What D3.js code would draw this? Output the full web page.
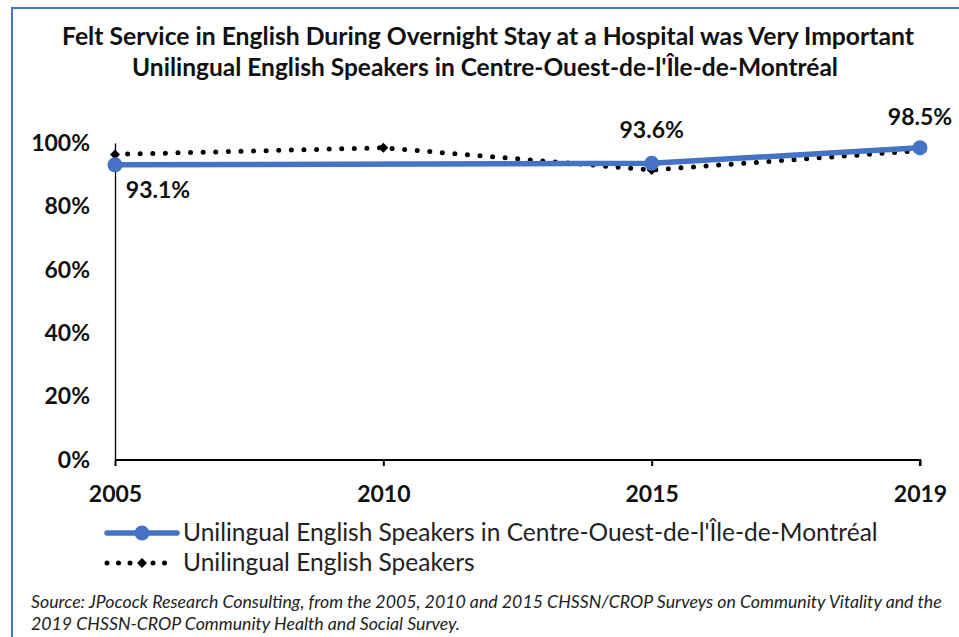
<!DOCTYPE html>
<html>
<head>
<meta charset="utf-8">
<script src="https://cdn.jsdelivr.net/npm/d3@7"></script>
<style>
  html, body { margin: 0; padding: 0; background: #fff; }
  svg { display: block; font-family: Lato, "Open Sans", sans-serif; }
</style>
</head>
<body>
<svg id="chart" width="959" height="637"></svg>
<script>
// Survey years (categories) and the two series, in percent
const years = ["2005", "2010", "2015", "2019"];
const centreOuest = [93.1, null, 93.6, 98.5];
const allUnilingual = [96.4, 98.5, 91.5, 97.6];
const yTicks = [0, 20, 40, 60, 80, 100];

const titleLines = [
  "Felt Service in English During Overnight Stay at a Hospital was Very Important",
  "Unilingual English Speakers in Centre-Ouest-de-l'Île-de-Montréal"
];
const seriesNames = [
  "Unilingual English Speakers in Centre-Ouest-de-l'Île-de-Montréal",
  "Unilingual English Speakers"
];
const sourceLines = [
  "Source: JPocock Research Consulting, from the 2005, 2010  and 2015  CHSSN/CROP Surveys on Community Vitality and the",
  "2019  CHSSN-CROP Community Health and Social Survey."
];

const blue = "#4472C4";
const svg = d3.select("#chart");

// Fit a text element to a given width by adjusting its font size
function fitWidth(sel, width) {
  const node = sel.node();
  const fs = parseFloat(sel.attr("font-size"));
  const w = node.getComputedTextLength();
  sel.attr("font-size", (fs * width / w).toFixed(2));
}

// Outer frame
svg.append("path")
  .attr("d", "M12,645 L12,8 L970,8")
  .attr("fill", "none").attr("stroke", blue).attr("stroke-width", 2);

// Title
const tl1 = svg.append("text").attr("x", 488).attr("y", 45)
  .attr("text-anchor", "middle").attr("font-weight", "bold")
  .attr("font-size", 20).attr("fill", "#111").text(titleLines[0]);
fitWidth(tl1, 852);
const tl2 = svg.append("text").attr("x", 485).attr("y", 76)
  .attr("text-anchor", "middle").attr("font-weight", "bold")
  .attr("font-size", 20).attr("fill", "#111").text(titleLines[1]);
fitWidth(tl2, 706);

// Scales
const x = d3.scalePoint().domain(years).range([115, 920]);
const y = d3.scaleLinear().domain([0, 100]).range([460, 143]);

// Axes
const yAxis = svg.append("g").attr("transform", "translate(115,0)")
  .call(d3.axisLeft(y).tickValues(yTicks).tickSize(0).tickPadding(25)
    .tickFormat(d => d + "%"));
yAxis.select(".domain").attr("stroke", "#000").attr("stroke-width", 1.3);
yAxis.selectAll("text").attr("font-size", 23).attr("font-weight", "bold")
  .attr("fill", "#111").attr("font-family", "Lato, sans-serif");

const xAxis = svg.append("g").attr("transform", "translate(0,460)")
  .call(d3.axisBottom(x).tickSize(6).tickSizeOuter(6).tickPadding(20));
xAxis.select(".domain").attr("stroke", "#000").attr("stroke-width", 2.2)
  .attr("d", `M115,0H920V6`);
xAxis.selectAll(".tick line").attr("stroke", "#000").attr("stroke-width", 2);
xAxis.selectAll("text").attr("font-size", 23).attr("font-weight", "bold")
  .attr("fill", "#111").attr("font-family", "Lato, sans-serif");

// Dotted series: all unilingual English speakers
const dotLine = d3.line().x((d, i) => x(years[i])).y(d => y(d));
svg.append("path").datum(allUnilingual)
  .attr("d", dotLine)
  .attr("fill", "none").attr("stroke", "#000").attr("stroke-width", 5)
  .attr("stroke-linecap", "round").attr("stroke-dasharray", "0 12.6");
// Diamond marker: a square turned by 45 degrees
const diamond = d3.symbol().type(d3.symbolSquare).size(50);
svg.selectAll(".dm").data(allUnilingual).join("path")
  .attr("transform", (d, i) => `translate(${x(years[i])},${y(d)}) rotate(45)`)
  .attr("d", diamond).attr("fill", "#000");

// Solid series: Centre-Ouest (no 2010 value, line bridges the gap)
const cPts = centreOuest.map((v, i) => ({ year: years[i], v })).filter(d => d.v != null);
svg.append("path").datum(cPts)
  .attr("d", d3.line().x(d => x(d.year)).y(d => y(d.v)))
  .attr("fill", "none").attr("stroke", blue).attr("stroke-width", 5.5)
  .attr("stroke-linejoin", "round");
svg.selectAll(".cm").data(cPts).join("circle")
  .attr("cx", d => x(d.year)).attr("cy", d => y(d.v)).attr("r", 7.5)
  .attr("fill", blue);

// Value labels
const labelPos = { "2005": [43, 33, "middle"], "2015": [0, -25, "middle"], "2019": [0, -23, "middle"] };
svg.selectAll(".vl").data(cPts).join("text")
  .attr("x", d => x(d.year) + labelPos[d.year][0])
  .attr("y", d => y(d.v) + labelPos[d.year][1])
  .attr("text-anchor", d => labelPos[d.year][2])
  .attr("font-size", 23).attr("font-weight", "bold").attr("fill", "#111")
  .text(d => d.v.toFixed(1) + "%");

// Legend
const lg = svg.append("g");
lg.append("line").attr("x1", 107).attr("x2", 177).attr("y1", 533).attr("y2", 533)
  .attr("stroke", blue).attr("stroke-width", 5.5).attr("stroke-linecap", "round");
lg.append("circle").attr("cx", 142).attr("cy", 533).attr("r", 7.5).attr("fill", blue);
lg.append("line").attr("x1", 107).attr("x2", 175).attr("y1", 563).attr("y2", 563)
  .attr("stroke", "#000").attr("stroke-width", 5).attr("stroke-linecap", "round")
  .attr("stroke-dasharray", "0 11.5");
lg.append("path").attr("transform", "translate(142,563) rotate(45)").attr("d", diamond).attr("fill", "#000");
const lt1 = lg.append("text").attr("x", 183).attr("y", 541).attr("font-size", 21)
  .attr("fill", "#222").text(seriesNames[0]);
fitWidth(lt1, 695);
lg.append("text").attr("x", 183).attr("y", 571).attr("font-size", lt1.attr("font-size"))
  .attr("fill", "#222").text(seriesNames[1]);

// Source note
const s1 = svg.append("text").attr("x", 31).attr("y", 608).attr("font-size", 14.5)
  .attr("font-style", "italic").attr("fill", "#222").text(sourceLines[0]);
fitWidth(s1, 911);
svg.append("text").attr("x", 31).attr("y", 630).attr("font-size", s1.attr("font-size"))
  .attr("font-style", "italic").attr("fill", "#222").text(sourceLines[1]);
</script>
</body>
</html>
